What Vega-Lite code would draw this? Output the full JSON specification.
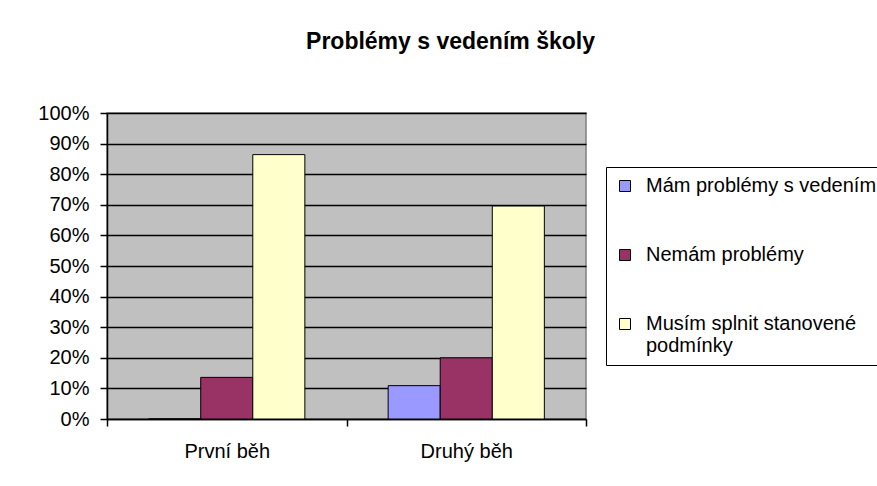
{
  "$schema": "https://vega.github.io/schema/vega-lite/v6.json",
  "autosize": {"type": "none"},
  "padding": {"left": 107, "top": 113, "right": 291, "bottom": 67},
  "width": 479,
  "height": 306,
  "background": "white",
  "title": {
    "text": "Problémy s vedením školy",
    "font": "Liberation Sans",
    "fontSize": 23,
    "fontWeight": "bold",
    "color": "black",
    "anchor": "middle",
    "frame": "group",
    "dx": 104,
    "baseline": "alphabetic",
    "offset": 31
  },
  "data": {
    "values": [
      {"beh": "První běh", "serie": "Mám problémy s vedením", "podil": 0.0},
      {"beh": "První běh", "serie": "Nemám problémy", "podil": 0.136},
      {"beh": "První běh", "serie": "Musím splnit stanovené podmínky", "podil": 0.864},
      {"beh": "Druhý běh", "serie": "Mám problémy s vedením", "podil": 0.109},
      {"beh": "Druhý běh", "serie": "Nemám problémy", "podil": 0.2},
      {"beh": "Druhý běh", "serie": "Musím splnit stanovené podmínky", "podil": 0.696}
    ]
  },
  "mark": {"type": "bar", "stroke": "black", "strokeWidth": 1},
  "encoding": {
    "x": {
      "field": "beh",
      "type": "nominal",
      "sort": ["První běh", "Druhý běh"],
      "scale": {"paddingInner": 0, "paddingOuter": 0},
      "axis": {
        "title": null,
        "labelAngle": 0,
        "labelFont": "Liberation Sans",
        "labelFontSize": 20,
        "labelColor": "black",
        "labelPadding": 15,
        "tickSize": 7,
        "tickColor": "black",
        "tickWidth": 1.5,
        "tickBand": "extent",
        "domainColor": "black",
        "domainWidth": 1.5,
        "grid": false
      }
    },
    "xOffset": {
      "field": "serie",
      "type": "nominal",
      "sort": ["Mám problémy s vedením", "Nemám problémy", "Musím splnit stanovené podmínky"],
      "scale": {"paddingInner": 0, "paddingOuter": 0.8}
    },
    "y": {
      "field": "podil",
      "type": "quantitative",
      "scale": {"domain": [0, 1], "nice": false},
      "axis": {
        "title": null,
        "format": ".0%",
        "values": [0, 0.1, 0.2, 0.3, 0.4, 0.5, 0.6, 0.7, 0.8, 0.9, 1],
        "labelFont": "Liberation Sans",
        "labelFontSize": 20,
        "labelColor": "black",
        "labelPadding": 11,
        "tickSize": 7,
        "tickColor": "black",
        "tickWidth": 1.5,
        "domainColor": "black",
        "domainWidth": 1.5,
        "grid": true,
        "gridColor": "black",
        "gridWidth": 1.3,
        "gridOpacity": 1
      }
    },
    "color": {
      "field": "serie",
      "type": "nominal",
      "scale": {
        "domain": ["Mám problémy s vedením", "Nemám problémy", "Musím splnit stanovené podmínky"],
        "range": ["#9999FF", "#993366", "#FFFFCC"]
      },
      "legend": {
        "title": null,
        "orient": "none",
        "legendX": 499,
        "legendY": 54,
        "strokeColor": "black",
        "fillColor": "white",
        "padding": 9,
        "symbolType": "square",
        "symbolSize": 121,
        "symbolStrokeColor": "black",
        "symbolStrokeWidth": 1,
        "symbolOpacity": 1,
        "labelFont": "Liberation Sans",
        "labelFontSize": 20,
        "labelColor": "black",
        "labelOffset": 11,
        "labelLimit": 600,
        "rowPadding": 49,
        "labelExpr": "datum.label == 'Musím splnit stanovené podmínky' ? ['Musím splnit stanovené', 'podmínky'] : datum.label"
      }
    }
  },
  "config": {
    "view": {"fill": "#C0C0C0", "stroke": "#808080", "strokeWidth": 1.5}
  }
}
